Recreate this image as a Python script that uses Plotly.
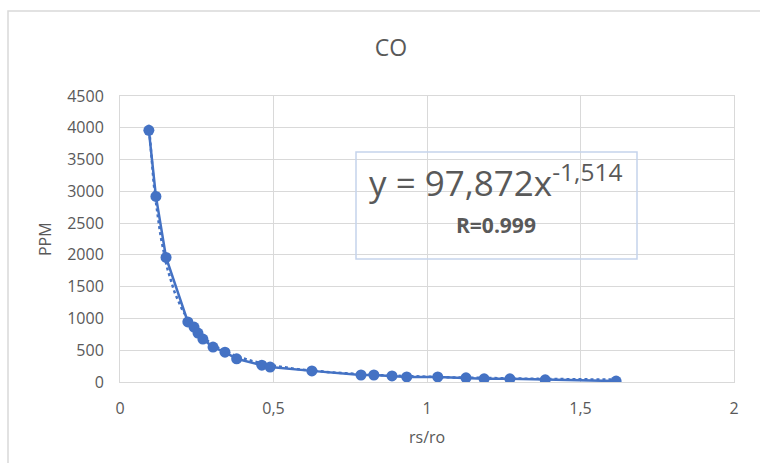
import numpy as np
import plotly.graph_objects as go

# ---- data ----
rs_ro = [0.094, 0.117, 0.150, 0.221, 0.241, 0.254, 0.270, 0.303, 0.342, 0.380,
         0.462, 0.489, 0.625, 0.785, 0.827, 0.886, 0.934, 1.035, 1.127, 1.186,
         1.270, 1.385, 1.616]
ppm = [3960, 2920, 1960, 945, 865, 770, 675, 550, 470, 365,
       265, 235, 175, 110, 110, 95, 80, 80, 65, 50,
       50, 35, 15]

x_ticks = [0, 0.5, 1, 1.5, 2]
x_ticktext = ["0", "0,5", "1", "1,5", "2"]
y_ticks = [0, 500, 1000, 1500, 2000, 2500, 3000, 3500, 4000, 4500]
y_ticktext = [str(v) for v in y_ticks]

title_text = "CO"
eq_text = "y = 97,872x<sup>-1,514</sup>"
r_text = "<b>R=0.999</b>"

BLUE = "#4472C4"
GRID = "#d9d9d9"
TXT = "#595959"
FONT = "Open Sans"

# power trendline fitted to the data (weighted log-space least squares)
xa = np.array(rs_ro)
ya = np.array(ppm, dtype=float)
b, lna = np.polyfit(np.log(xa), np.log(ya), 1, w=ya)
xt = np.linspace(xa.min(), xa.max(), 300)
yt = np.exp(lna) * xt ** b

fig = go.Figure()
fig.add_trace(go.Scatter(x=xt, y=yt, mode="lines",
                         line=dict(color=BLUE, width=2.5, dash="dot"),
                         hoverinfo="skip", showlegend=False))
fig.add_trace(go.Scatter(x=rs_ro, y=ppm, mode="lines+markers",
                         line=dict(color=BLUE, width=2.5),
                         marker=dict(color=BLUE, size=11),
                         showlegend=False))

W, H = 760, 463
L, R, T, B = 120, 26, 96, 81
pw, ph = W - L - R, H - T - B

def px(xpix):
    return (xpix - L) / pw

def py(ypix):
    return (H - B - ypix) / ph

fig.update_layout(
    width=W, height=H,
    margin=dict(l=L, r=R, t=T, b=B),
    paper_bgcolor="white", plot_bgcolor="white",
    font=dict(family=FONT, color=TXT, size=16),
    title=dict(text=title_text, x=391 / W, xanchor="center",
               y=1 - 48 / H, yanchor="middle",
               font=dict(size=23, color=TXT, family=FONT)),
    xaxis=dict(range=[0, 2], tickvals=x_ticks, ticktext=x_ticktext,
               showgrid=True, gridcolor=GRID, gridwidth=1,
               zeroline=False, showline=True, linecolor=GRID, linewidth=1,
               mirror=True, ticks="", ticklabelstandoff=12,
               tickfont=dict(size=16, color=TXT)),
    yaxis=dict(range=[0, 4500], tickvals=y_ticks, ticktext=y_ticktext,
               showgrid=True, gridcolor=GRID, gridwidth=1,
               zeroline=False, showline=True, linecolor=GRID, linewidth=1,
               mirror=True, ticks="", ticklabelstandoff=12,
               tickfont=dict(size=16, color=TXT)),
)

# chart outer border
fig.add_shape(type="rect", xref="paper", yref="paper",
              x0=px(8), x1=px(770), y0=py(475), y1=py(11),
              line=dict(color=GRID, width=1.5), fillcolor="rgba(0,0,0,0)",
              layer="below")

# equation box
fig.add_shape(type="rect", xref="paper", yref="paper",
              x0=px(356), x1=px(637), y0=py(259), y1=py(152),
              line=dict(color="#c5d3ec", width=1.5),
              fillcolor="rgba(0,0,0,0)")

fig.add_annotation(xref="paper", yref="paper", x=px(495), y=py(180),
                   text=eq_text, showarrow=False, xanchor="center",
                   yanchor="middle", font=dict(size=35, color=TXT, family=FONT))
fig.add_annotation(xref="paper", yref="paper", x=px(496), y=py(225),
                   text=r_text, showarrow=False, xanchor="center",
                   yanchor="middle", font=dict(size=21, color=TXT, family=FONT))

# axis titles
fig.add_annotation(xref="paper", yref="paper", x=px(427), y=py(437),
                   text="rs/ro", showarrow=False, xanchor="center",
                   yanchor="middle", font=dict(size=16, color=TXT, family=FONT))
fig.add_annotation(xref="paper", yref="paper", x=px(45), y=py(239),
                   text="PPM", showarrow=False, textangle=-90,
                   xanchor="center", yanchor="middle",
                   font=dict(size=16, color=TXT, family=FONT))

fig.write_html("out.html")
